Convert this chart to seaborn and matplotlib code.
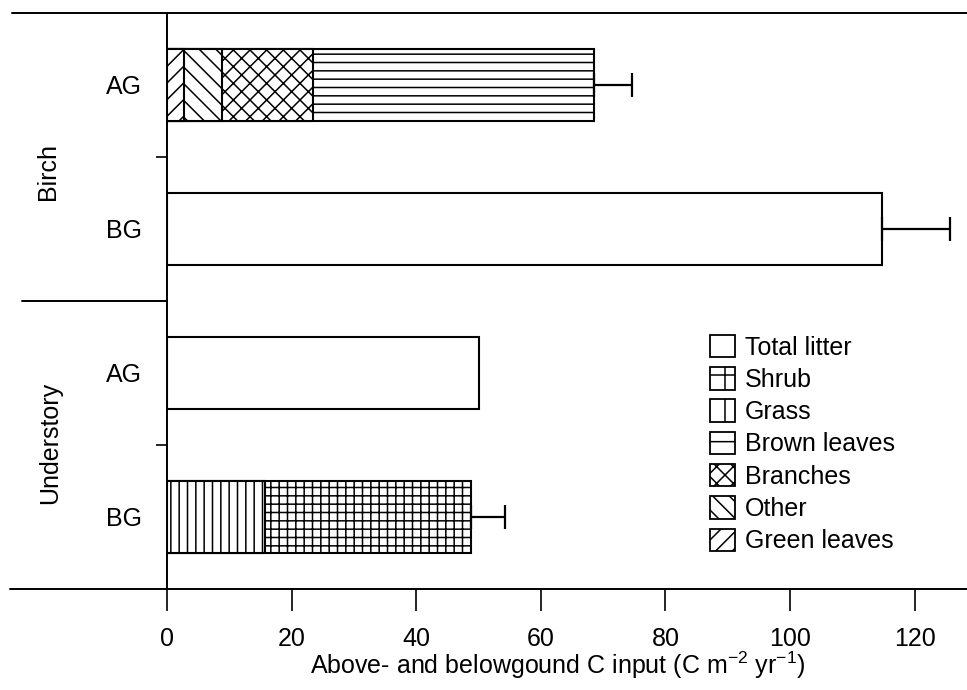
import numpy as np
import pandas as pd
import matplotlib
matplotlib.use("Agg")
import matplotlib.pyplot as plt
import matplotlib.transforms as mtransforms
from matplotlib.patches import Patch
from matplotlib.lines import Line2D
import seaborn as sns

# ---------------- data ----------------
categories = ["Birch AG", "Birch BG", "Understory AG", "Understory BG"]
tick_labels = ["AG", "BG", "AG", "BG"]
group_labels = ["Birch", "Understory"]

# stacked components (left to right within each bar)
seg_category = ["Birch AG", "Birch AG", "Birch AG", "Birch AG",
                "Birch BG", "Understory AG",
                "Understory BG", "Understory BG"]
seg_component = ["Green leaves", "Other", "Branches", "Brown leaves",
                 "Total litter", "Total litter",
                 "Grass", "Shrub"]
seg_value = [2.7, 6.1, 14.6, 45.2,
             114.8, 50.1,
             15.7, 33.1]

# error (positive side only) on the bar totals
err_category = ["Birch AG", "Birch BG", "Understory BG"]
err_value = [6.1, 10.8, 5.5]

legend_order = ["Total litter", "Shrub", "Grass", "Brown leaves",
                "Branches", "Other", "Green leaves"]

# ---------------- styles ----------------
bar_hatch = {"Total litter": "", "Shrub": "++", "Grass": "||",
             "Brown leaves": "--", "Branches": "xx", "Other": "\\\\",
             "Green leaves": "//"}
legend_hatch = {"Total litter": "", "Shrub": "+", "Grass": "|",
                "Brown leaves": "-", "Branches": "xx", "Other": "\\\\",
                "Green leaves": "//"}

sns.set_style("white")
plt.rcParams["font.family"] = ["Liberation Sans", "DejaVu Sans"]
plt.rcParams["mathtext.fontset"] = "custom"
plt.rcParams["mathtext.rm"] = "Liberation Sans"
plt.rcParams["mathtext.default"] = "regular"
plt.rcParams["hatch.linewidth"] = 1.1
plt.rcParams["hatch.color"] = "black"
for k in ["text.color", "axes.labelcolor", "xtick.color", "ytick.color",
          "axes.edgecolor"]:
    plt.rcParams[k] = "black"

W, H = 967, 690
fig = plt.figure(figsize=(W / 100, H / 100), dpi=100)
ax = fig.add_axes([167 / W, 1 - 589 / H, 800 / W, (589 - 13) / H])

df = pd.DataFrame({"category": seg_category, "component": seg_component,
                   "value": seg_value})
df["cum"] = df.groupby("category")["value"].cumsum()

# draw from the longest cumulative segment to the shortest (overlay stacking)
for _, row in df.sort_values("cum", ascending=False).iterrows():
    sns.barplot(data=pd.DataFrame([row]), x="cum", y="category",
                order=categories, orient="h", width=0.5,
                color="white", saturation=1, edgecolor="black",
                linewidth=1.5, hatch=bar_hatch[row["component"]],
                errorbar=None, ax=ax)

totals = df.groupby("category")["value"].sum()
ypos = {c: i for i, c in enumerate(categories)}
for c, e in zip(err_category, err_value):
    ax.errorbar(totals[c], ypos[c], xerr=[[0], [e]], fmt="none",
                ecolor="black", elinewidth=1.6, capsize=8.5, capthick=1.6)

ax.set_xlim(0, 128.4)
ax.set_ylim(3.5, -0.5)

# spines
for s in ["top", "right", "bottom"]:
    ax.spines[s].set_visible(False)
ax.spines["left"].set_linewidth(1.4)
ax.spines["left"].set_color("black")

# x axis
ax.set_xticks([0, 20, 40, 60, 80, 100, 120])
ax.tick_params(axis="x", direction="out", length=16, width=1.2,
               labelsize=18, pad=11, bottom=True, colors="black")
ax.set_xlabel("")
# y axis
ax.set_yticks(range(len(categories)))
ax.set_yticklabels(tick_labels)
ax.tick_params(axis="y", which="major", length=0, pad=18, labelsize=18,
               left=True, colors="black")
ax.set_yticks([0.5, 2.5], minor=True)
ax.tick_params(axis="y", which="minor", length=8, width=1.2, left=True,
               direction="out", color="black")
ax.set_ylabel("")

# frame lines (span beyond the axes to the left)
tr = mtransforms.blended_transform_factory(fig.transFigure, ax.transData)
for x0, x1, y in [(12 / W, 1.0, -0.5), (10 / W, 1.0, 3.5),
                  (22 / W, 167 / W, 1.5)]:
    fig.add_artist(Line2D([x0, x1], [y, y], transform=tr, color="black",
                          linewidth=1.4, clip_on=False))

# group labels
fig.text(48 / W, 1 - 171 / H, group_labels[0], rotation=90,
         ha="center", va="center", fontsize=18, color="black")
fig.text(50 / W, 1 - 443 / H, group_labels[1], rotation=90,
         ha="center", va="center", fontsize=18, color="black")

# x label
fig.text(558 / W, 1 - 665 / H,
         "Above- and belowgound C input (C m$^{-2}$ yr$^{-1}$)",
         ha="center", va="center", fontsize=18, color="black")

# legend
handles = [Patch(facecolor="white", edgecolor="black", linewidth=1.3,
                 hatch=legend_hatch[k], label=k) for k in legend_order]
ax.legend(handles=handles, loc="upper left",
          bbox_to_anchor=(710 / W, 1 - 335 / H),
          bbox_transform=fig.transFigure, frameon=False, fontsize=18,
          handlelength=1.0, handleheight=1.0, handletextpad=0.4,
          labelspacing=0.3, borderpad=0, borderaxespad=0,
          labelcolor="black")

fig.savefig("out.png", dpi=100, facecolor="white")
